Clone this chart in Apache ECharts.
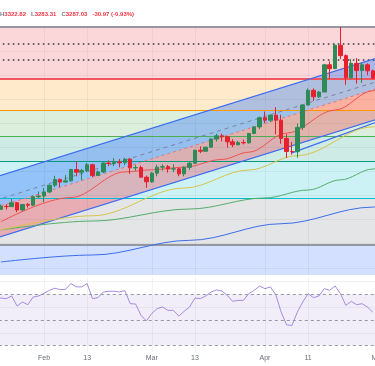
<!DOCTYPE html>
<html><head><meta charset="utf-8">
<script src="https://cdn.jsdelivr.net/npm/echarts@6/dist/echarts.min.js"></script>
<style>html,body{margin:0;padding:0;background:#fff}#c{width:375px;height:366px}</style>
</head><body><div id="c"></div>
<script>
// ---------- DATA ----------
const dates = ['Jan 21','Jan 22','Jan 23','Jan 24','Jan 27','Jan 28','Jan 29','Jan 30','Jan 31',
'Feb 3','Feb 4','Feb 5','Feb 6','Feb 7','Feb 10','Feb 11','Feb 12','Feb 13','Feb 14','Feb 17','Feb 18','Feb 19','Feb 20','Feb 21','Feb 24','Feb 25','Feb 26','Feb 27','Feb 28',
'Mar 3','Mar 4','Mar 5','Mar 6','Mar 7','Mar 10','Mar 11','Mar 12','Mar 13','Mar 14','Mar 17','Mar 18','Mar 19','Mar 20','Mar 21','Mar 24','Mar 25','Mar 26','Mar 27','Mar 28','Mar 31',
'Apr 1','Apr 2','Apr 3','Apr 4','Apr 7','Apr 8','Apr 9','Apr 10','Apr 11','Apr 14','Apr 15','Apr 16','Apr 17','Apr 21','Apr 22','Apr 23','Apr 24','Apr 25','Apr 28','Apr 29','Apr 30','May 1'];

const opens  = [2708,2743,2755,2754,2770,2740,2763,2760,2795,2798,2815,2843,2867,2856,2861,2908,2897,2904,2928,2883,2898,2935,2933,2939,2936,2951,2915,2916,2876,2857,2893,2918,2920,2910,2911,2890,2917,2934,2988,2984,3001,3035,3048,3044,3023,3011,3020,3019,3058,3085,3123,3113,3134,3113,3037,2983,2982,3083,3176,3237,3210,3230,3343,3327,3424,3381,3289,3349,3319,3343,3318];
const highs  = [2746,2763,2764,2786,2773,2765,2769,2800,2817,2831,2845,2882,2871,2886,2911,2942,2911,2936,2932,2904,2938,2946,2955,2952,2957,2956,2928,2924,2883,2898,2928,2930,2927,2930,2915,2921,2940,2990,3004,3001,3038,3057,3057,3047,3034,3027,3032,3060,3087,3128,3149,3135,3167,3136,3055,3023,3099,3176,3245,3245,3234,3347,3357,3430,3500,3386,3367,3371,3352,3349,3322.82];
const lows   = [2704,2741,2742,2752,2731,2735,2750,2756,2789,2772,2810,2835,2835,2853,2858,2880,2864,2897,2877,2881,2893,2922,2922,2917,2926,2890,2902,2875,2832,2853,2880,2904,2895,2897,2880,2880,2906,2931,2976,2983,3000,3024,3025,2999,3001,3008,3012,3016,3055,3076,3100,3105,3054,3015,2956,2970,2957,3072,3174,3193,3205,3229,3284,3325,3367,3260,3283,3265,3268,3300,3283.31];
const closes = [2743,2755,2754,2770,2740,2763,2760,2795,2798,2815,2843,2867,2856,2861,2908,2897,2904,2928,2883,2898,2935,2933,2939,2936,2951,2915,2916,2876,2857,2893,2918,2920,2910,2911,2890,2917,2934,2988,2984,3001,3035,3048,3044,3023,3011,3020,3019,3058,3085,3123,3113,3134,3113,3037,2983,2982,3083,3176,3237,3210,3230,3343,3327,3424,3381,3289,3349,3319,3343,3318,3287.03];

const rsi = [66,67.1,66.6,68.7,60.9,64.0,61.9,67.9,68.7,70.8,
73.1,74.7,73.7,73.9,78.4,75.8,75.8,78.4,66.6,67.4,
71.8,72.4,72.4,71.8,72.9,62.7,62.4,53.5,49.3,55.1,
58.8,60.1,57.5,57.5,53.0,56.7,60.1,67.1,66.6,68.7,
71.8,73.4,72.6,69.2,64.5,65.3,65.3,70.5,73.1,76.5,
74.4,75.8,69.7,56.1,46.2,45.7,56.1,64.0,70.5,67.4,
68.7,74.4,73.1,76.5,70.5,61.4,64.5,61.9,62.7,60.1,56.1,'-'];

// moving averages: [category index, price]
const ema20  = [[1,2691],[14,2792],[24,2898],[29,2907],[35,2918],[42,2950],[47,2980],[54,3059],[63,3155],[70,3235],[71,3250]];
const sma50  = [[1,2657],[18,2716],[35,2831],[47,2906],[56,2966],[70,3085],[71,3093]];
const sma100 = [[1,2657],[18,2694],[36,2744],[50,2790],[58,2823],[64,2865],[70,2910],[71,2917]];
const sma200 = [[1,2524],[18,2553],[36,2614],[53,2683],[70,2752],[71,2756]];

// regression channel (ends at category index)
const chIdx   = [0, 71];
const chUpper = [2877, 3373];
const chMid   = [2750, 3246];
const chLower = [2622, 3118];
const chDash  = [2780, 3275];
const trendIdx = [55, 71];
const trendVal = [2977, 3108];

// fibonacci levels (top to bottom) and dotted levels
const fibLevels = [3500, 3287, 3154, 3048, 2941, 2790, 2595];
const dottedLevels = [3432, 3366];
const gridPrices = [2500,2600,2700,2800,2900,3000,3100,3200,3300,3400];
const yMin = 2470, yMax = 3500;

const rsiLevels = [70, 50, 30];
const rsiGrid = [40, 60, 80];

const tickIdx  = [9, 17, 29, 37, 50, 58, 71];
const tickText = ['Feb','13','Mar','13','Apr','11','May'];

// ---------- STYLE ----------
const bandColors = ['rgba(242,54,69,0.2)','rgba(255,152,0,0.2)','rgba(76,175,80,0.2)','rgba(8,153,129,0.2)','rgba(0,188,212,0.2)','rgba(120,123,134,0.2)','rgba(41,98,255,0.2)'];
const lineColors = ['#9598a1','#f05560','#ff9800','#4caf50','#089981','#00bcd4','#9598a1'];
const lineWidths = [2, 2, 1, 1, 1, 1, 2];
const UP = '#2e8b57', DOWN = '#e8202e';
const FONT = "'Liberation Sans',sans-serif";

const chart = echarts.init(document.getElementById('c'), null, {renderer:'canvas'});

const bands = fibLevels.map((v, i) => {
  const lo = i + 1 < fibLevels.length ? fibLevels[i + 1] : yMin;
  return [{yAxis: lo, itemStyle: {color: bandColors[i]}}, {yAxis: v}];
});
const fibLines = fibLevels.map((v, i) => ({yAxis: v, lineStyle: {color: lineColors[i], width: lineWidths[i], type: 'solid'}}));
const dotLines = dottedLevels.map(v => ({yAxis: v, lineStyle: {color: '#3a3a3a', width: 1.6, type: [1.6, 3.4]}}));
const vLines = tickIdx.map(i => ({xAxis: dates[i]}));
const hLines = gridPrices.map(v => ({yAxis: v}));
const tickMap = {}; tickIdx.forEach((k, j) => tickMap[k] = tickText[j]);

const candleData = opens.map((o, i) => [o, closes[i], lows[i], highs[i]]);
candleData.push('-');

function pairLine(name, pts, color, width, dash, z) {
  return {name, type: 'line', xAxisIndex: 0, yAxisIndex: 0, data: pts, symbol: 'none', silent: true, z,
    lineStyle: {color, width, type: dash || 'solid'}, smooth: 0.35, smoothMonotone: 'x'};
}

const option = {
  animation: false,
  backgroundColor: '#ffffff',
  title: {
    left: 0, top: 5, padding: 0,
    text: '{l|H}{v|3322.82} {l|L}{v|3283.31} {l|C}{v|3287.03} {v|-30.97 (-0.93%)}',
    textStyle: {rich: {
      l: {color: '#787b86', fontSize: 6, fontFamily: FONT},
      v: {color: '#f23645', fontSize: 6, fontFamily: FONT}
    }}
  },
  grid: [
    {left: -7.2, right: -5.88, top: 27, height: 248, containLabel: false, outerBoundsMode: 'none'},
    {left: -7.2, right: -5.88, top: 277, height: 75, containLabel: false, outerBoundsMode: 'none'}
  ],
  xAxis: [
    {type: 'category', gridIndex: 0, data: dates, boundaryGap: true, show: false},
    {type: 'category', gridIndex: 1, data: dates, boundaryGap: true,
     axisLine: {show: false}, axisTick: {show: false}, splitLine: {show: false},
     axisLabel: {interval: 0, margin: 3, fontSize: 7, color: '#6a6d78', fontFamily: FONT, hideOverlap: false,
       formatter: (v, i) => tickMap[i] || ''}}
  ],
  yAxis: [
    {type: 'value', gridIndex: 0, min: yMin, max: yMax, show: false, splitLine: {show: false}},
    {type: 'value', gridIndex: 1, min: 25, max: 83.5, show: false, splitLine: {show: false}}
  ],
  series: [
    {name: 'bands', type: 'line', xAxisIndex: 0, yAxisIndex: 0, data: [], z: 1, silent: true,
     markArea: {silent: true, data: bands}},
    {name: 'grid', type: 'line', xAxisIndex: 0, yAxisIndex: 0, data: [], z: 2, silent: true,
     markLine: {silent: true, symbol: ['none','none'], label: {show: false},
       lineStyle: {color: 'rgba(42,46,57,0.06)', width: 1, type: 'solid'},
       data: vLines.concat(hLines)}},
    {name: 'fib', type: 'line', xAxisIndex: 0, yAxisIndex: 0, data: [], z: 3, silent: true,
     markLine: {silent: true, symbol: ['none','none'], label: {show: false}, data: fibLines.concat(dotLines)}},
    {name: 'channelFill', type: 'custom', xAxisIndex: 0, yAxisIndex: 0, z: 4, silent: true, clip: true,
     data: [[chIdx[0], chUpper[0]]],
     renderItem: (params, api) => {
       const u0 = api.coord([chIdx[0], chUpper[0]]), u1 = api.coord([chIdx[1], chUpper[1]]);
       const m0 = api.coord([chIdx[0], chMid[0]]),   m1 = api.coord([chIdx[1], chMid[1]]);
       const l0 = api.coord([chIdx[0], chLower[0]]), l1 = api.coord([chIdx[1], chLower[1]]);
       return {type: 'group', children: [
         {type: 'polygon', shape: {points: [u0, u1, m1, m0]}, style: {fill: 'rgba(70,130,250,0.42)'}},
         {type: 'polygon', shape: {points: [m0, m1, l1, l0]}, style: {fill: 'rgba(242,54,69,0.32)'}}
       ]};
     }},
    pairLine('upper', [[chIdx[0], chUpper[0]], [chIdx[1], chUpper[1]]], '#3d6cf0', 1.2, 'solid', 5),
    pairLine('lower', [[chIdx[0], chLower[0]], [chIdx[1], chLower[1]]], '#3d6cf0', 1.2, 'solid', 5),
    pairLine('mid', [[chIdx[0], chMid[0]], [chIdx[1], chMid[1]]], '#e57380', 1, [3, 3], 5),
    pairLine('dash', [[chIdx[0], chDash[0]], [chIdx[1], chDash[1]]], '#7b82a0', 1, [4, 4], 5),
    pairLine('trend', [[trendIdx[0], trendVal[0]], [trendIdx[1], trendVal[1]]], '#3d6cf0', 1.2, 'solid', 5),
    pairLine('sma200', sma200, '#3c6ee8', 1, 'solid', 5),
    pairLine('sma100', sma100, '#55ad6a', 1, 'solid', 5),
    pairLine('sma50', sma50, '#d9c34a', 1, 'solid', 5),
    pairLine('ema20', ema20, '#ef5350', 1, 'solid', 5),
    {name: 'price', type: 'candlestick', xAxisIndex: 0, yAxisIndex: 0, z: 6, silent: true,
     data: candleData, barWidth: 4,
     itemStyle: {color: UP, color0: DOWN, borderColor: UP, borderColor0: DOWN, borderWidth: 1}},
    // RSI panel
    {name: 'rsiBg', type: 'line', xAxisIndex: 1, yAxisIndex: 1, data: [], z: 1, silent: true,
     markArea: {silent: true, data: [[{yAxis: 30, itemStyle: {color: 'rgba(126,87,194,0.1)'}}, {yAxis: 70}]]},
     markLine: {silent: true, symbol: ['none','none'], label: {show: false},
       data: rsiLevels.map(v => ({yAxis: v, lineStyle: {color: '#9598a1', width: 1, type: [3, 3]}}))
         .concat(rsiGrid.map(v => ({yAxis: v, lineStyle: {color: 'rgba(42,46,57,0.06)', width: 1, type: 'solid'}})))
         .concat(vLines.map(d => Object.assign({}, d, {lineStyle: {color: 'rgba(42,46,57,0.06)', width: 1, type: 'solid'}})))}},
    {name: 'rsi', type: 'line', xAxisIndex: 1, yAxisIndex: 1, data: rsi, z: 3, silent: true,
     symbol: 'none', lineStyle: {color: '#a48be0', width: 1}}
  ]
};
chart.setOption(option);
</script>
</body></html>
